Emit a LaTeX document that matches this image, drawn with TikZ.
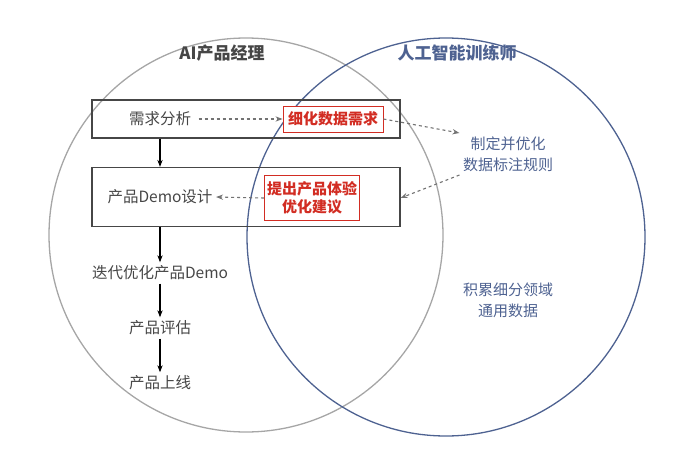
\documentclass[tikz,border=0pt]{standalone}
\usepackage{fontspec}
\setmainfont{Noto Sans CJK SC}
\usepackage{tikz}
\usetikzlibrary{positioning, arrows.meta}
\definecolor{pmgray}{RGB}{70,70,70}
\definecolor{trblue}{RGB}{78,98,145}
\definecolor{hired}{RGB}{210,45,35}
\tikzset{
  stage/.style={rectangle, draw=pmgray, line width=1.2pt, minimum width=308pt, text=pmgray, font=\fontsize{15.5}{18}\selectfont},
  redbox/.style={rectangle, draw=hired, line width=0.9pt, fill=white, text=hired, font=\fontsize{15}{18}\selectfont\bfseries, align=center, inner sep=2pt},
  plain/.style={text=pmgray, font=\fontsize{15.5}{18}\selectfont},
  trtext/.style={text=trblue, font=\fontsize{15}{21}\selectfont, align=center},
  arrow/.style={line width=1.2pt, -{Stealth[length=7pt]}, draw=black},
  dasharrow/.style={line width=1.1pt, dash pattern=on 3pt off 3pt, -{Stealth[length=7pt]}, draw=gray!90!black}
}
\begin{document}
\begin{tikzpicture}[x=1pt, y=-1pt]
    \useasboundingbox (0,0) rectangle (678,450);
    \draw[gray!70, line width=1.3pt] (246,235) circle (197);
    \draw[trblue, line width=1.3pt] (446,237) circle (199);
    \node (pm) [text=pmgray, font=\fontsize{17}{20}\selectfont\bfseries] at (222,53) {AI产品经理};
    \node (tr) [text=trblue, font=\fontsize{17}{20}\selectfont\bfseries] at (457,53) {人工智能训练师};

    % product manager stages
    \node (need) [stage, minimum height=38pt] at (246,119) {};
    \node (needtxt) [plain] at (160,119) {需求分析};
    \node (design) [stage, minimum height=59pt] at (246,197) {};
    \node (designtxt) [plain] at (160,197) {产品Demo设计};
    \node (fine) [redbox, minimum width=100pt, minimum height=26pt] at (333,119) {细化数据需求};
    \node (advise) [redbox, minimum width=95pt, minimum height=45pt] at (312,198) {提出产品体验\\优化建议};
    \node (iter) [plain] at (160,273) {迭代优化产品Demo};
    \node (eval) [plain] at (160,328) {产品评估};
    \node (online) [plain] at (160,383) {产品上线};

    % trainer tasks
    \node (rule) [trtext] at (508,154) {制定并优化\\数据标注规则};
    \node (data) [trtext] at (508,300) {积累细分领域\\通用数据};

    \draw[arrow] (need.south -| needtxt) -- (design.north -| needtxt);
    \draw[arrow] (design.south -| designtxt) -- (iter);
    \draw[arrow] (iter) -- (eval);
    \draw[arrow] (eval) -- (online);
    \draw[dasharrow] (needtxt.east) ++(4,0) -- (fine.west);
    \draw[dasharrow] (fine.east) -- (rule.north west);
    \draw[dasharrow] (rule.south west) -- (advise.east -| design.east);
    \draw[dasharrow] (advise.west) -- (designtxt.east);
\end{tikzpicture}
\end{document}
